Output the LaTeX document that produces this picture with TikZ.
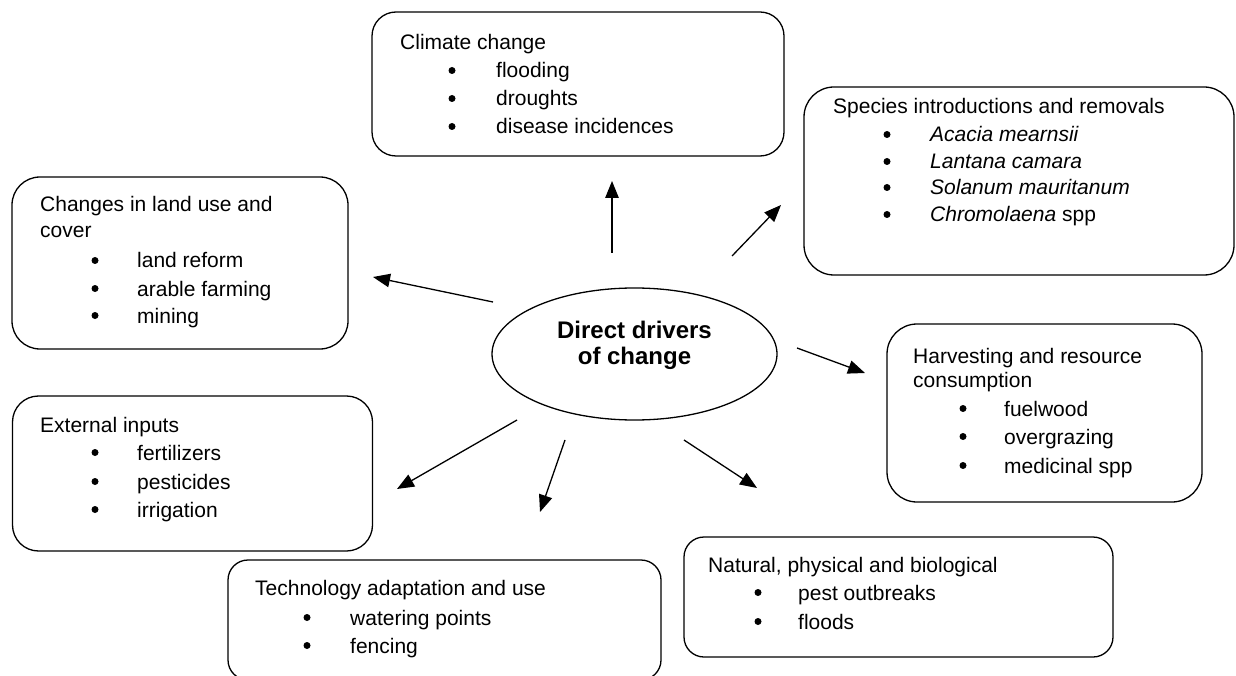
\documentclass[tikz,border=0pt]{standalone}
\usepackage{fontspec}
\setmainfont{Liberation Sans}
\usetikzlibrary{arrows.meta,shapes.geometric}
\newcommand\bitems[4]{\foreach \yy/\txt [count=\k] in {#4} {\node[bul] (#1b\k) at (#2,\yy-7.5) {}; \node[itm] (#1i\k) at (#3,\yy) {\txt};}}
\begin{document}
\begin{tikzpicture}[x=1pt,y=-1pt,
  box/.style={draw, line width=1.3pt, inner sep=0pt},
  ttl/.style={anchor=base west, inner sep=0pt, font=\fontsize{21}{25}\selectfont},
  itm/.style={ttl},
  bul/.style={circle, fill, inner sep=0pt, minimum size=7pt},
  arr/.style={line width=1.3pt, -{Triangle[length=17pt,width=13.5pt]}},
]
\useasboundingbox (0,0) rectangle (1236,676);
\clip (0,0) rectangle (1236,676);

% Climate change
\node[box, rounded corners=24pt, minimum width=412pt, minimum height=144pt] (climate) at (578,84) {};
\node[ttl] (climatet) at (400,50) {Climate change};
\bitems{cl}{452}{496}{78/flooding,106/droughts,134/disease incidences}

% Species
\node[box, rounded corners=30pt, minimum width=430pt, minimum height=188pt] (species) at (1019,181) {};
\node[ttl] (speciest) at (833,114) {Species introductions and removals};
\bitems{sp}{887}{930}{142/\textit{Acacia mearnsii},169/\textit{Lantana camara},195/\textit{Solanum mauritanum},222/\textit{Chromolaena} spp}

% Changes in land use
\node[box, rounded corners=28pt, minimum width=336pt, minimum height=172pt] (land) at (180,263) {};
\node[ttl] (landt1) at (40,212) {Changes in land use and};
\node[ttl] (landt2) at (40,238) {cover};
\bitems{la}{95}{137}{268/land reform,296/arable farming,323/mining}

% External inputs
\node[box, rounded corners=26pt, minimum width=360pt, minimum height=155pt] (ext) at (192.5,473.5) {};
\node[ttl] (extt) at (40,432) {External inputs};
\bitems{ex}{95}{137}{460/fertilizers,489/pesticides,517/irrigation}

% Technology
\node[box, rounded corners=20pt, minimum width=433pt, minimum height=120pt] (tech) at (444.5,620) {};
\node[ttl] (techt) at (255,595) {Technology adaptation and use};
\bitems{te}{307}{350}{625/watering points,653/fencing}

% Natural
\node[box, rounded corners=20pt, minimum width=429pt, minimum height=120pt] (nat) at (898.5,597) {};
\node[ttl] (natt) at (708,572) {Natural, physical and biological};
\bitems{na}{758}{798}{600/pest outbreaks,629/floods}

% Harvesting
\node[box, rounded corners=30pt, minimum width=315pt, minimum height=178pt] (harv) at (1044.5,413) {};
\node[ttl] (harvt1) at (913,363) {Harvesting and resource};
\node[ttl] (harvt2) at (913,387) {consumption};
\bitems{ha}{963}{1004}{416/fuelwood,444/overgrazing,473/medicinal spp}

% Centre
\node[draw, ellipse, line width=1.3pt, minimum width=285pt, minimum height=132pt, inner sep=0pt,
  font=\bfseries\fontsize{24}{26}\selectfont] (drivers) at (634.5,354)
  {\raisebox{0pt}[17.5pt][49.5pt]{\begin{tabular}[t]{@{}c@{}}Direct drivers\\of change\end{tabular}}};

% Arrows
\coordinate (upS) at (612,253);  \coordinate (upE) at (612,181);
\coordinate (urS) at (732,256);  \coordinate (urE) at (781,205);
\coordinate (lS) at (493,302);   \coordinate (lE) at (373,277);
\coordinate (rS) at (797,348);   \coordinate (rE) at (865,373);
\coordinate (lrS) at (684,440);  \coordinate (lrE) at (757,488);
\coordinate (dS) at (565,440);   \coordinate (dE) at (540,512);
\coordinate (dlS) at (517,420);  \coordinate (dlE) at (397,489);
\draw[arr] (upS) -- (upE);
\draw[arr] (urS) -- (urE);
\draw[arr] (lS) -- (lE);
\draw[arr] (rS) -- (rE);
\draw[arr] (lrS) -- (lrE);
\draw[arr] (dS) -- (dE);
\draw[arr] (dlS) -- (dlE);
\end{tikzpicture}
\end{document}
